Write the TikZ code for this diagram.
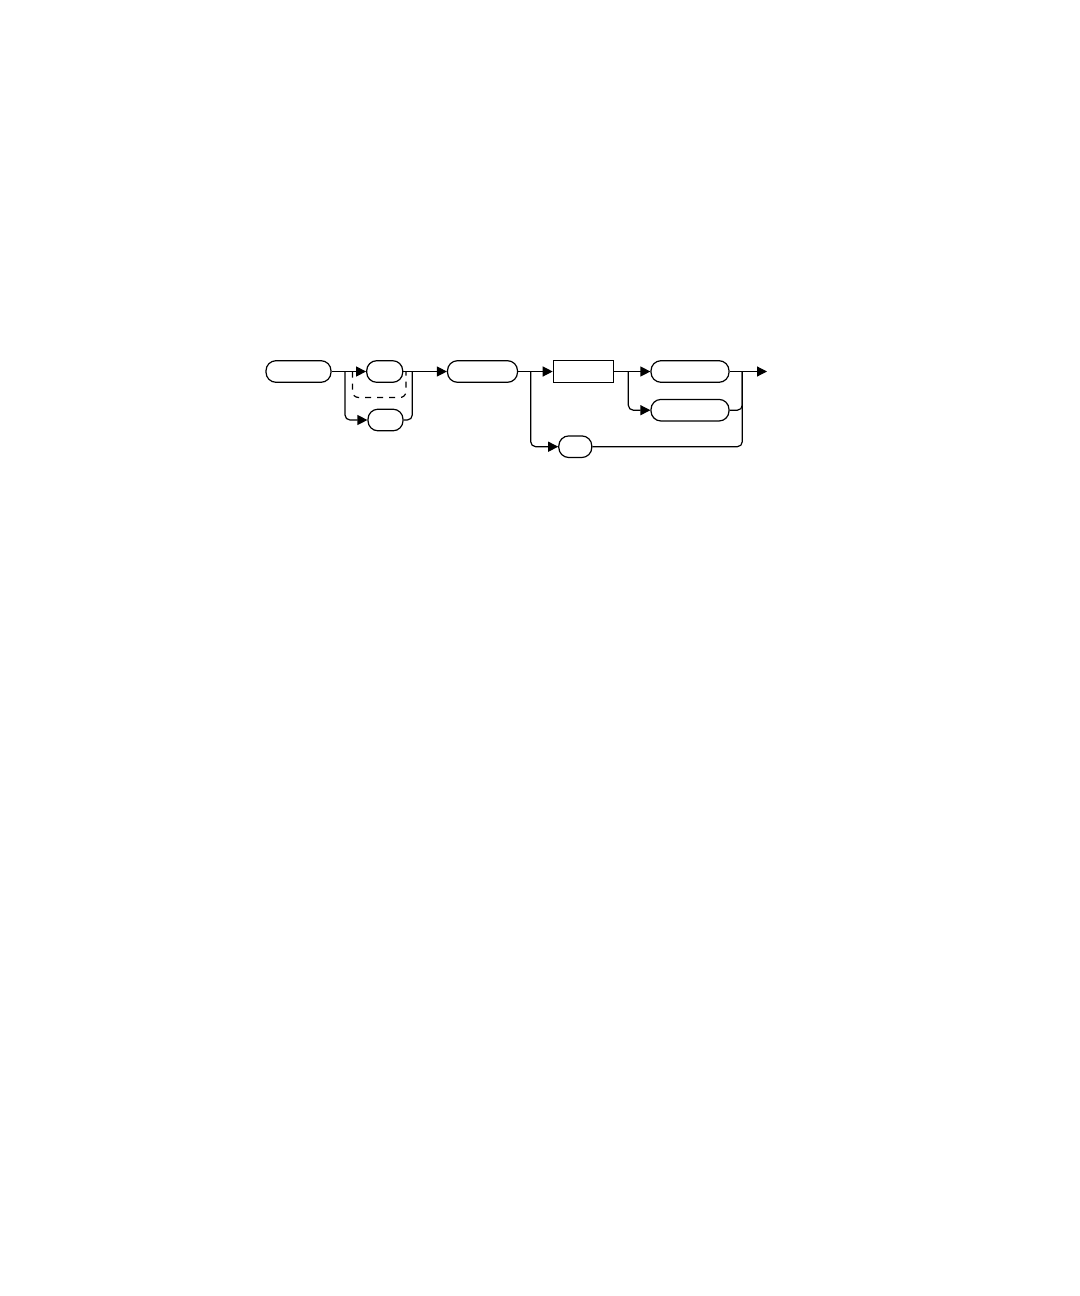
\documentclass[tikz,border=0pt]{standalone}
\usepackage{tikz}
\usetikzlibrary{arrows.meta,shapes}

\begin{document}
\begin{tikzpicture}[>={Triangle[length=5pt,width=5pt]}, x=0.5pt, y=-0.5pt, line width=0.6pt]
      \tikzstyle{term}=[draw, rounded corners=5pt, inner sep=0pt, minimum height=10.8pt]
      \tikzstyle{nonterm}=[draw, inner sep=0pt, minimum height=11pt]
      \useasboundingbox (0,0) rectangle (1080,1296);
      %%
  \node (t1) at (298.5,371.5) [term, minimum width=32.5pt] {};
  \node (t2) at (384.7,371.5) [term, minimum width=18pt] {};
  \node (t3) at (385.5,420) [term, minimum width=17.5pt] {};
  \node (t4) at (482.5,371.5) [term, minimum width=35pt] {};
  \node (t5) at (583.3,371.5) [nonterm, minimum width=30pt] {};
  \node (t6) at (690,371.5) [term, minimum width=39pt] {};
  \node (t7) at (690,410.2) [term, minimum width=39pt] {};
  \node (t8) at (575.3,446.7) [term, minimum width=16.5pt] {};
  \coordinate (b1) at (345,371.5);
  \coordinate (m1) at (412.3,371.5);
  \coordinate (d1) at (352.5,371.5);
  \coordinate (d2) at (406,371.5);
  \coordinate (b2) at (530.7,371.5);
  \coordinate (b3) at (628.3,371.5);
  \coordinate (m2) at (742.3,371.5);
  \coordinate (end) at (767,371.5);
  \draw [->] (t1) -- (t2);
  \draw [->, rounded corners=2.5pt] (b1) |- (t3.west);
  \draw [rounded corners=2.5pt] (t3.east) -| (m1);
  \draw [dashed, dash pattern=on 3pt off 3pt, rounded corners=3pt] (d1) |- (380,397.5) -| (d2);
  \draw [->] (t2) -- (t4);
  \draw [->] (t4) -- (t5);
  \draw [->, rounded corners=2.5pt] (b2) |- (t8.west);
  \draw [->] (t5) -- (t6);
  \draw [->, rounded corners=2.5pt] (b3) |- (t7.west);
  \draw [rounded corners=2.5pt] (t7.east) -| (m2);
  \draw [rounded corners=2.5pt] (t8.east) -| (m2);
  \draw [->] (t6) -- (end);
%
\end{tikzpicture}
\end{document}
